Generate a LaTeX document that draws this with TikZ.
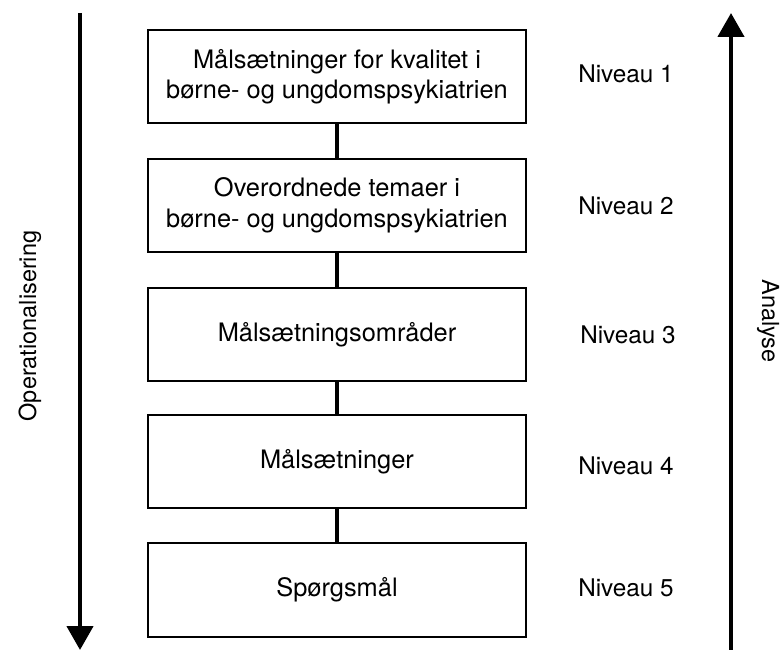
\documentclass[tikz,border=0pt]{standalone}
\usepackage{fontspec}
\setmainfont{TeX Gyre Heros}
\usetikzlibrary{arrows.meta}
\begin{document}
\begin{tikzpicture}[x=1pt,y=-1pt,
  levelbox/.style={draw=black,line width=1.6pt,minimum width=378pt,minimum height=93.5pt,inner sep=0pt,align=center,font=\fontsize{25.4}{30.5}\selectfont},
  link/.style={line width=4pt},
  bigarrow/.style={line width=4.5pt,-{Triangle[width=26pt,length=24pt]}},
  lvl/.style={anchor=base,font=\fontsize{24.3}{29}\selectfont},
  side/.style={anchor=base,font=\fontsize{23.5}{29}\selectfont}]
\useasboundingbox (0,0) rectangle (782,650);
\node[levelbox] (b1) at (337,76.5) {Målsætninger for kvalitet i\\børne- og ungdomspsykiatrien};
\node[levelbox] (b2) at (337,205.5) {Overordnede temaer i\\børne- og ungdomspsykiatrien};
\node[levelbox] (b3) at (337,334.5) {Målsætningsområder};
\node[levelbox] (b4) at (337,461.5) {Målsætninger};
\node[levelbox] (b5) at (337,590) {Spørgsmål};
\draw[link] (b1.south) -- (b2.north);
\draw[link] (b2.south) -- (b3.north);
\draw[link] (b3.south) -- (b4.north);
\draw[link] (b4.south) -- (b5.north);
\node[lvl] (n1) at (626,83) {Niveau 1};
\node[lvl] (n2) at (626,214) {Niveau 2};
\node[lvl] (n3) at (628,343) {Niveau 3};
\node[lvl] (n4) at (626,474) {Niveau 4};
\node[lvl] (n5) at (626,596) {Niveau 5};
\coordinate (ltop) at (80,13);
\coordinate (lbot) at (80,650);
\coordinate (rbot) at (731,650);
\coordinate (rtop) at (731,13);
\draw[bigarrow] (ltop) -- (lbot);
\draw[bigarrow] (rbot) -- (rtop);
\node[side,rotate=90] (op) at (36,326) {Operationalisering};
\node[side,rotate=-90] (an) at (762,321) {Analyse};
\end{tikzpicture}
\end{document}
